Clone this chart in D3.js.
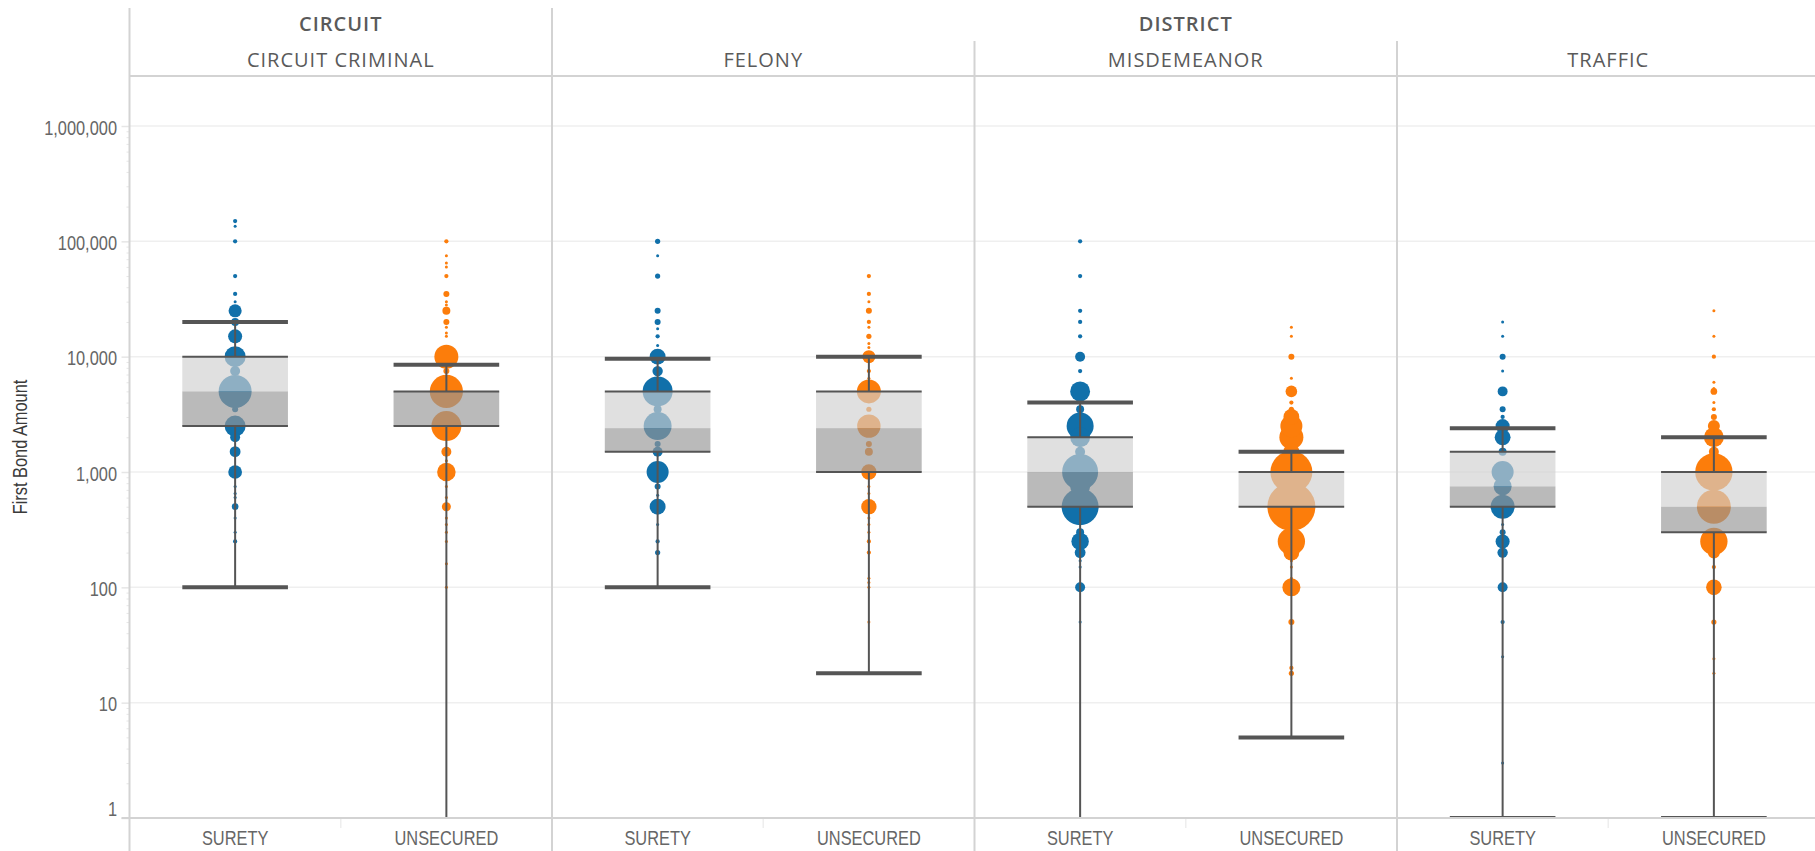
<!DOCTYPE html>
<html>
<head>
<meta charset="utf-8">
<script src="https://cdn.jsdelivr.net/npm/d3@7"></script>
<style>
  body { margin: 0; background: #fff; overflow: hidden; }
  .hdr { font-family: "Open Sans", sans-serif; fill: #5a5a5a; }
  .narrow { font-family: "Liberation Sans", Arial, sans-serif; fill: #666; }
</style>
</head>
<body>
<div id="chart"></div>
<script>
var courtGroups = ["CIRCUIT", "DISTRICT"];
var courtTypes = ["CIRCUIT CRIMINAL", "FELONY", "MISDEMEANOR", "TRAFFIC"];
var bondTypes = ["SURETY", "UNSECURED"];
var yTicks = [1, 10, 100, 1000, 10000, 100000, 1000000];

// box stats per court type: [lower whisker, q1, median, q3, upper whisker]
var boxSurety = [
  [100, 2500, 5000, 10000, 20000],
  [100, 1500, 2400, 5000, 9600],
  [0.5, 500, 1000, 2000, 4000],
  [1, 500, 750, 1500, 2400]
];
var boxUnsecured = [
  [0.5, 2500, 5000, 5000, 8500],
  [18, 1000, 2400, 5000, 10000],
  [5, 500, 500, 1000, 1500],
  [1, 300, 500, 1000, 2000]
];

// dots: [first bond amount, number of cases]
var circuitSurety = [[150000,2],[135000,1],[100000,2],[50000,2],[35000,2],[30000,1],[25000,19],[20000,7],[15000,22],[10000,49],[7500,11],[5000,121],[3500,4],[2500,49],[2000,11],[1500,13],[1000,21],[750,1],[650,1],[600,1],[500,5],[400,1],[300,1],[250,2],[100,1]];
var circuitUnsecured = [[100000,2],[75000,1],[65000,1],[60000,1],[50000,2],[35000,4],[30000,1],[28000,1],[25000,7],[20000,4],[18000,1],[16000,1],[15000,1],[10000,64],[7500,4],[5000,122],[2500,100],[1500,11],[1250,1],[1000,38],[750,1],[600,1],[500,9],[400,1],[350,1],[300,1],[250,1],[160,1],[100,1]];
var felonySurety = [[100000,3],[75000,1],[50000,3],[25000,4],[20000,4],[17500,1],[15000,2],[12500,1],[10000,28],[7500,12],[5000,100],[3500,7],[2500,87],[1750,4],[1500,11],[1000,54],[750,4],[630,1],[500,28],[350,1],[250,2],[200,3],[100,1]];
var felonyUnsecured = [[50000,2],[35000,2],[30000,1],[25000,4],[20000,2],[18000,1],[15000,3],[13000,1],[12000,1],[10000,19],[7500,2],[6500,1],[5000,64],[3500,3],[2500,61],[1750,4],[1500,7],[1000,26],[750,1],[650,1],[500,26],[400,1],[350,1],[300,1],[250,2],[200,2],[120,1],[110,1],[100,1],[50,1],[18,1]];
var misdSurety = [[100000,2],[50000,2],[25000,2],[20000,2],[15000,2],[10000,11],[7500,2],[5000,44],[3500,7],[2500,81],[2000,44],[1500,11],[1000,144],[750,44],[500,152],[300,7],[250,34],[200,13],[170,1],[150,1],[100,11],[50,1]];
var misdUnsecured = [[18000,1],[15000,1],[10000,4],[6500,1],[5000,15],[4000,2],[3500,3],[3000,28],[2500,54],[2000,64],[1500,28],[1000,196],[750,64],[500,256],[250,83],[200,28],[170,1],[150,1],[120,1],[100,36],[50,4],[20,2],[18,3],[5,1]];
var trafficSurety = [[20000,1],[15000,1],[10000,4],[7500,1],[5000,11],[3500,4],[3000,2],[2500,22],[2000,28],[1500,7],[1000,54],[750,36],[500,64],[350,1],[300,4],[250,22],[200,12],[100,11],[50,2],[25,1],[3,1]];
var trafficUnsecured = [[25000,1],[15000,1],[10000,2],[6000,1],[5300,1],[5000,5],[4000,1],[3500,2],[3000,4],[2500,16],[2000,44],[1500,11],[1000,155],[500,128],[250,83],[200,16],[150,2],[100,27],[50,3],[24,1],[18,1]];

var dotsSurety = [circuitSurety, felonySurety, misdSurety, trafficSurety];
var dotsUnsecured = [circuitUnsecured, felonyUnsecured, misdUnsecured, trafficUnsecured];

var w = 1815, h = 851;
var plotLeft = 129.5, plotTop = 76, plotBottom = 818, panelW = 422.5;
var colors = {"SURETY": "#1170aa", "UNSECURED": "#fc7d0b"};

var svg = d3.select("#chart").append("svg")
    .attr("width", w)
    .attr("height", h);

var x = d3.scaleBand().domain(courtTypes).range([plotLeft, plotLeft + 4 * panelW]);
var xInner = d3.scaleBand().domain(bondTypes).range([0, x.bandwidth()]);
var y = d3.scaleLog().domain([1, 1000000]).range([plotBottom, 126]);
var r = d3.scaleSqrt().domain([0, 256]).range([0, 24]);

// condensed look: squeeze the text horizontally
function squeeze(sel, px, py) {
    sel.attr("x", 0).attr("y", 0)
        .attr("transform", function(d) {
            var yy = typeof py == "function" ? py(d) : py;
            return "translate(" + px + "," + yy + ") scale(0.82,1)";
        });
}

svg.append("defs").append("clipPath").attr("id", "plotclip")
  .append("rect").attr("x", plotLeft).attr("y", plotTop)
  .attr("width", w - plotLeft).attr("height", plotBottom - plotTop);

// gridlines
svg.append("g").selectAll("line")
    .data(yTicks.slice(1))
    .enter().append("line")
    .attr("x1", plotLeft).attr("x2", w)
    .attr("y1", function(d) { return y(d); })
    .attr("y2", function(d) { return y(d); })
    .style("stroke", "#efefef")
    .style("stroke-width", 1.5);

// y axis with minor ticks
var minor = [];
yTicks.slice(0, -1).forEach(function(t) {
    for (var k = 2; k < 10; k++) minor.push(t * k);
});
var minorAxis = svg.append("g")
    .attr("transform", "translate(" + plotLeft + ",0)")
    .call(d3.axisLeft(y).tickValues(minor).tickSize(3).tickFormat(""));
minorAxis.select(".domain").remove();
minorAxis.selectAll("line").style("stroke", "#e6e6e6");

var yAxis = svg.append("g")
    .attr("transform", "translate(" + plotLeft + ",0)")
    .call(d3.axisLeft(y).tickValues(yTicks).tickSize(8).tickFormat(d3.format(",")));
yAxis.select(".domain").remove();
yAxis.selectAll("line").style("stroke", "#e6e6e6").style("stroke-width", 1.5);
yAxis.selectAll("text")
    .attr("class", "narrow")
    .attr("dy", null)
    .style("font-size", "20px")
    .style("dominant-baseline", "central")
    // the lowest label sits just above the axis line
    .call(squeeze, -12.5, function(d) { return d == 1 ? -10 : 1; });

svg.append("text")
    .attr("class", "narrow")
    .attr("transform", "translate(27," + ((plotTop + plotBottom) / 2) + ") rotate(-90) scale(0.82,1)")
    .attr("text-anchor", "middle")
    .style("font-size", "20px")
    .style("fill", "#3a3a3a")
    .text("First Bond Amount");

var plot = svg.append("g").attr("clip-path", "url(#plotclip)");

courtTypes.forEach(function(ct, i) {
    bondTypes.forEach(function(bt) {
        var cx = x(ct) + xInner(bt) + xInner.bandwidth() / 2;
        var bw = xInner.bandwidth() / 2;
        var dots = bt == "SURETY" ? dotsSurety[i] : dotsUnsecured[i];
        var box = bt == "SURETY" ? boxSurety[i] : boxUnsecured[i];
        var g = plot.append("g");

        g.selectAll("circle")
            .data(dots.slice().sort(function(a, b) { return b[1] - a[1]; }))
            .enter().append("circle")
            .attr("cx", cx)
            .attr("cy", function(d) { return y(d[0]); })
            .attr("r", function(d) { return Math.max(1.4, r(d[1])); })
            .style("fill", colors[bt]);

        // upper half (median to q3) light, lower half (q1 to median) dark
        g.append("rect")
            .attr("x", cx - bw / 2).attr("width", bw)
            .attr("y", y(box[3])).attr("height", y(box[2]) - y(box[3]))
            .style("fill", "rgb(208,208,208)").style("fill-opacity", 0.66);
        g.append("rect")
            .attr("x", cx - bw / 2).attr("width", bw)
            .attr("y", y(box[2])).attr("height", y(box[1]) - y(box[2]))
            .style("fill", "rgb(150,150,150)").style("fill-opacity", 0.66);

        // whiskers
        [[box[3], box[4]], [box[1], box[0]]].forEach(function(p) {
            g.append("line")
                .attr("x1", cx).attr("x2", cx)
                .attr("y1", y(p[0])).attr("y2", y(p[1]))
                .style("stroke", "#555").style("stroke-width", 2);
        });
        [box[1], box[3]].forEach(function(v) {
            g.append("line")
                .attr("x1", cx - bw / 2).attr("x2", cx + bw / 2)
                .attr("y1", y(v)).attr("y2", y(v))
                .style("stroke", "#555").style("stroke-width", 2);
        });
        [box[0], box[4]].forEach(function(v) {
            g.append("line")
                .attr("x1", cx - bw / 2).attr("x2", cx + bw / 2)
                .attr("y1", y(v)).attr("y2", y(v))
                .style("stroke", "#555").style("stroke-width", 4);
        });

        svg.append("text")
            .attr("class", "narrow")
            .attr("text-anchor", "middle")
            .style("font-size", "20px")
            .text(bt)
            .call(squeeze, cx, 845);
    });
    // faint separator between the two bond types on the x axis
    svg.append("line")
        .attr("x1", x(ct) + x.bandwidth() / 2).attr("x2", x(ct) + x.bandwidth() / 2)
        .attr("y1", plotBottom).attr("y2", 828)
        .style("stroke", "#eee").style("stroke-width", 1.5);

    svg.append("text")
        .attr("class", "hdr")
        .attr("x", x(ct) + x.bandwidth() / 2).attr("y", 67)
        .attr("text-anchor", "middle")
        .style("font-size", "20px")
        .style("font-weight", 500)
        .style("letter-spacing", "1px")
        .text(ct);
});

// frame lines
var frame = "#d3d3d3";
svg.append("line").attr("x1", plotLeft).attr("x2", w).attr("y1", plotTop).attr("y2", plotTop)
    .style("stroke", frame).style("stroke-width", 2);
svg.append("line").attr("x1", plotLeft - 8).attr("x2", w).attr("y1", plotBottom).attr("y2", plotBottom)
    .style("stroke", frame).style("stroke-width", 2);
svg.append("line").attr("x1", plotLeft).attr("x2", plotLeft).attr("y1", 8).attr("y2", h)
    .style("stroke", frame).style("stroke-width", 2);
courtTypes.slice(1).forEach(function(ct, i) {
    svg.append("line")
        .attr("x1", x(ct)).attr("x2", x(ct))
        .attr("y1", i == 0 ? 8 : 41).attr("y2", h)
        .style("stroke", frame).style("stroke-width", 2);
});

// top header row
var groupCenters = [x(courtTypes[0]) + x.bandwidth() / 2, (x(courtTypes[1]) + x.range()[1]) / 2];
courtGroups.forEach(function(gname, i) {
    svg.append("text")
        .attr("class", "hdr")
        .attr("x", groupCenters[i]).attr("y", 31)
        .attr("text-anchor", "middle")
        .style("font-size", "20px")
        .style("font-weight", 600)
        .style("letter-spacing", "1px")
        .text(gname);
});
</script>
</body>
</html>
